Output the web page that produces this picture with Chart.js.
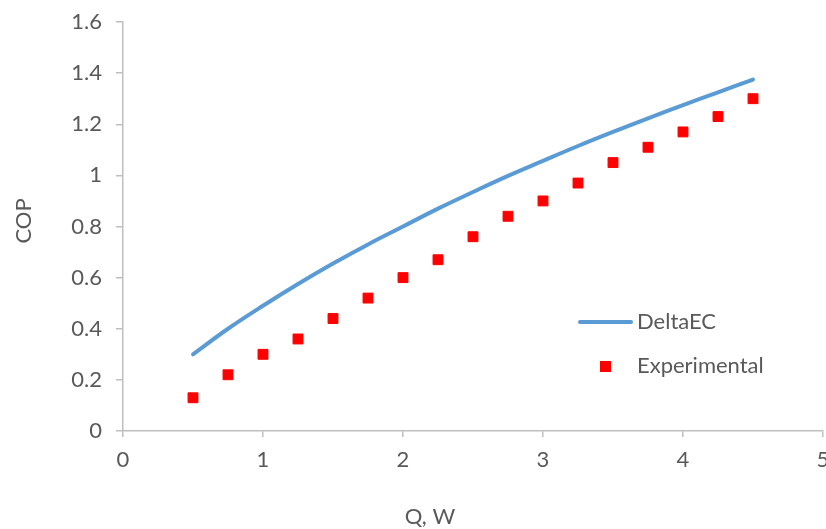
<!DOCTYPE html>
<html lang="en">

<head>
    <meta charset="UTF-8">
    <title>COP vs Q</title>
    <script src="https://cdn.jsdelivr.net/npm/chart.js"></script>
    <style>
        body { margin: 0; background: #fff; }
        #wrap { width: 826px; height: 529px; }
    </style>
</head>

<body>
    <div id="wrap"><canvas id="copChart" width="826" height="529"></canvas></div>

    <script>
        // Q, W values
        const qValues = [0.5, 0.75, 1, 1.25, 1.5, 1.75, 2, 2.25, 2.5, 2.75, 3, 3.25, 3.5, 3.75, 4, 4.25, 4.5];
        // DeltaEC model curve
        const deltaEC = [0.30, 0.40, 0.49, 0.575, 0.655, 0.73, 0.80, 0.87, 0.935, 0.998, 1.057, 1.115, 1.17, 1.223, 1.275, 1.325, 1.375];
        // measured COP
        const experimental = [0.13, 0.22, 0.30, 0.36, 0.44, 0.52, 0.60, 0.67, 0.76, 0.84, 0.90, 0.97, 1.05, 1.11, 1.17, 1.23, 1.30];

        const xTicks = [0, 1, 2, 3, 4, 5];
        const yTicks = [0, 0.2, 0.4, 0.6, 0.8, 1, 1.2, 1.4, 1.6];

        const FONT = 'Lato, "Open Sans", sans-serif';
        const TEXT = '#595959';
        const AXIS = '#bfbfbf';

        // axis titles + legend drawn inside the plot like the Excel original
        const extras = {
            id: 'extras',
            afterDraw(chart) {
                const ctx = chart.ctx;
                ctx.save();
                ctx.fillStyle = TEXT;
                ctx.font = '22px ' + FONT;
                ctx.textBaseline = 'middle';

                ctx.textAlign = 'center';
                ctx.fillText('Q, W', 430, 517);
                ctx.save();
                ctx.translate(24, 221);
                ctx.rotate(-Math.PI / 2);
                ctx.fillText('COP', 0, 0);
                ctx.restore();

                // legend
                const ds = chart.data.datasets;
                ctx.textAlign = 'left';
                ctx.strokeStyle = ds[0].borderColor;
                ctx.lineWidth = 4;
                ctx.lineCap = 'round';
                ctx.beginPath();
                ctx.moveTo(580, 322);
                ctx.lineTo(631, 322);
                ctx.stroke();
                ctx.fillText(ds[0].label, 637, 322);

                ctx.fillStyle = ds[1].backgroundColor;
                ctx.fillRect(600, 361, 11, 11);
                ctx.fillStyle = TEXT;
                ctx.fillText(ds[1].label, 637, 366);
                ctx.restore();
            }
        };

        const ctx = document.getElementById('copChart').getContext('2d');
        new Chart(ctx, {
            type: 'scatter',
            data: {
                datasets: [{
                    label: 'DeltaEC',
                    data: qValues.map((q, i) => ({ x: q, y: deltaEC[i] })),
                    showLine: true,
                    borderColor: '#5b9bd5',
                    backgroundColor: '#5b9bd5',
                    borderWidth: 4,
                    borderCapStyle: 'round',
                    tension: 0.4,
                    pointRadius: 0
                }, {
                    label: 'Experimental',
                    data: qValues.map((q, i) => ({ x: q, y: experimental[i] })),
                    showLine: false,
                    pointStyle: 'rect',
                    pointRadius: 7,
                    pointBorderWidth: 1,
                    backgroundColor: '#ff0000',
                    borderColor: '#ff0000'
                }]
            },
            options: {
                responsive: false,
                animation: false,
                layout: { autoPadding: false, padding: { top: 22, right: 3, left: 0, bottom: 0 } },
                plugins: {
                    legend: { display: false },
                    tooltip: { enabled: false }
                },
                scales: {
                    x: {
                        type: 'linear',
                        min: 0,
                        max: 5,
                        afterBuildTicks: s => { s.ticks = xTicks.map(v => ({ value: v })); },
                        afterFit: s => { s.height = 98; s.paddingLeft = 0; s.paddingRight = 0; },
                        border: { color: AXIS, width: 1.5 },
                        grid: { drawOnChartArea: false, tickLength: 6, tickColor: AXIS, lineWidth: 1.5 },
                        ticks: { color: TEXT, font: { family: FONT, size: 22 }, padding: 10, maxRotation: 0, callback: v => String(v) }
                    },
                    y: {
                        min: 0,
                        max: 1.6,
                        afterBuildTicks: s => { s.ticks = yTicks.map(v => ({ value: v })); },
                        afterFit: s => { s.width = 123; s.paddingTop = 0; s.paddingBottom = 0; },
                        border: { color: AXIS, width: 1.5 },
                        grid: { drawOnChartArea: false, tickLength: 7, tickColor: AXIS, lineWidth: 1.5 },
                        ticks: { color: TEXT, font: { family: FONT, size: 22 }, padding: 14, callback: v => String(v) }
                    }
                }
            },
            plugins: [extras]
        });
    </script>
</body>

</html>
